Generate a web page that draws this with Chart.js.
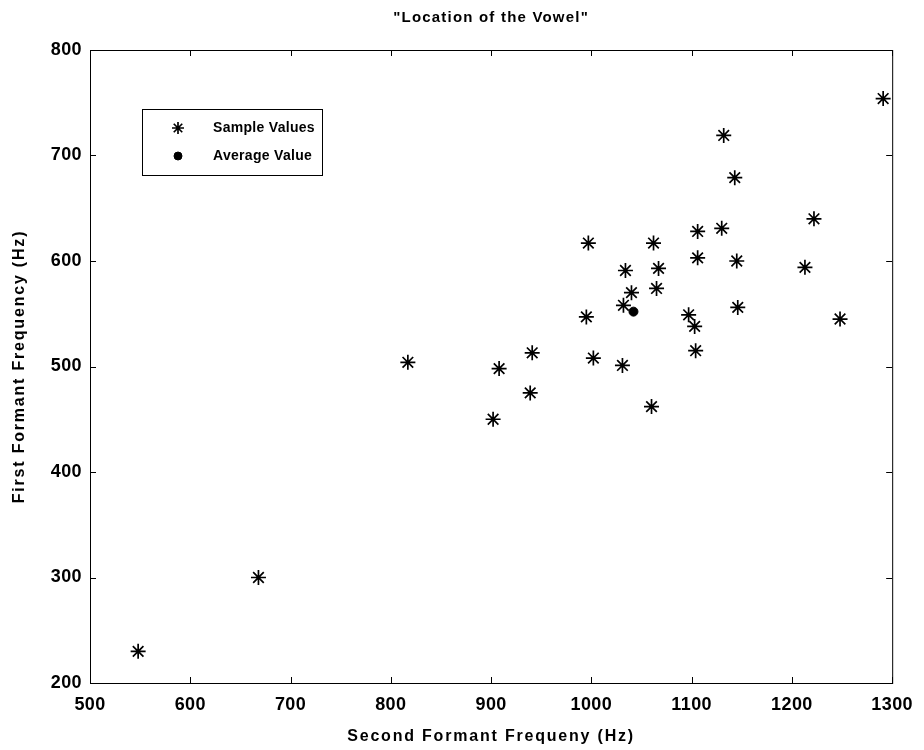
<!DOCTYPE html>
<html>
<head>
<meta charset="utf-8">
<title>Location of the Vowel</title>
<script src="https://cdn.jsdelivr.net/npm/chart.js@4"></script>
<style>
    html, body { margin: 0; padding: 0; background: #fff; }
    #wrap { width: 924px; height: 750px; }
</style>
</head>
<body>
<div id="wrap"><canvas id="vowelChart"></canvas></div>
<script>
// --- DATA ---
const SECOND_FORMANT = [548, 668, 817, 902, 908, 939, 941, 995, 997, 1002, 1031, 1032, 1034, 1040, 1060, 1062,
                        1065, 1067, 1097, 1103, 1104, 1106, 1106, 1130, 1132, 1143, 1145, 1146, 1213, 1222, 1248, 1291];
const FIRST_FORMANT  = [230, 300, 504, 450, 498, 475, 513, 547, 617, 508, 501, 558, 591, 570, 462, 617,
                        574, 593, 549, 538, 515, 628, 603, 631, 719, 679, 600, 556, 594, 640, 545, 754];
const AVERAGE_F2 = [1042];
const AVERAGE_F1 = [552];
const X_TICKS = [500, 600, 700, 800, 900, 1000, 1100, 1200, 1300];
const Y_TICKS = [200, 300, 400, 500, 600, 700, 800];
const SERIES_LABELS = ['Sample Values', 'Average Value'];
const TITLE = '"Location of the Vowel"';
const X_LABEL = 'Second Formant Frequeny (Hz)';
const Y_LABEL = 'First Formant Frequency (Hz)';

const FONT = "'Liberation Sans', Arial, Helvetica, sans-serif";

const toPoints = (xs, ys) => xs.map((x, i) => ({ x, y: ys[i] }));

// canvas resets its state on resize, so set the spacing again before layout and draw
const spacingPlugin = {
    id: 'spacing',
    beforeLayout(chart) { chart.ctx.letterSpacing = '0.4px'; },
    beforeDraw(chart) { chart.ctx.letterSpacing = '0.4px'; }
};

// box round the plot + inward ticks on all four sides (MATLAB style)
const boxPlugin = {
    id: 'box',
    afterDatasetsDraw(chart) {
        const { ctx, chartArea: a, scales } = chart;
        ctx.save();
        ctx.strokeStyle = '#000';
        ctx.lineWidth = 1;
        ctx.strokeRect(a.left + 0.5, a.top + 0.5, a.right - a.left, a.bottom - a.top);
        ctx.beginPath();
        X_TICKS.forEach(v => {
            const px = Math.round(scales.x.getPixelForValue(v)) + 0.5;
            ctx.moveTo(px, a.bottom); ctx.lineTo(px, a.bottom - 6);
            ctx.moveTo(px, a.top); ctx.lineTo(px, a.top + 6);
        });
        Y_TICKS.forEach(v => {
            const py = Math.round(scales.y.getPixelForValue(v)) + 0.5;
            ctx.moveTo(a.left, py); ctx.lineTo(a.left + 6, py);
            ctx.moveTo(a.right, py); ctx.lineTo(a.right - 6, py);
        });
        ctx.stroke();
        ctx.restore();
    }
};

// title and axis labels, spaced out like the original figure
const labelsPlugin = {
    id: 'labels',
    afterDraw(chart) {
        const { ctx, chartArea: a } = chart;
        const cx = (a.left + a.right) / 2;
        ctx.save();
        ctx.fillStyle = '#000';
        ctx.textAlign = 'center';
        ctx.textBaseline = 'middle';

        ctx.letterSpacing = '1.2px';
        ctx.font = `bold 15px ${FONT}`;
        ctx.fillText(TITLE, cx, 18);

        ctx.letterSpacing = '1.8px';
        ctx.font = `bold 16px ${FONT}`;
        ctx.fillText(X_LABEL, cx, 737);

        ctx.translate(20, (a.top + a.bottom) / 2);
        ctx.rotate(-Math.PI / 2);
        ctx.fillText(Y_LABEL, 0, 0);
        ctx.restore();
    }
};

// legend drawn inside the plot, upper left
const insideLegend = {
    id: 'insideLegend',
    afterDraw(chart) {
        const { ctx } = chart;
        const x0 = 142, y0 = 109, w = 180, h = 66;
        ctx.save();
        ctx.fillStyle = '#fff';
        ctx.fillRect(x0, y0, w, h);
        ctx.strokeStyle = '#000';
        ctx.lineWidth = 1;
        ctx.strokeRect(x0 + 0.5, y0 + 0.5, w, h);
        ctx.letterSpacing = '0.3px';
        ctx.font = `bold 14px ${FONT}`;
        ctx.textBaseline = 'middle';
        const rows = [128, 156];
        chart.data.datasets.forEach((ds, i) => {
            ctx.strokeStyle = '#000';
            ctx.fillStyle = '#000';
            ctx.lineWidth = ds.borderWidth;
            Chart.helpers.drawPoint(ctx, {
                pointStyle: ds.pointStyle,
                radius: i === 0 ? 6 : 4,
                borderWidth: ds.borderWidth,
                rotation: 0
            }, 178, rows[i]);
            ctx.fillText(ds.label, 213, rows[i]);
        });
        ctx.restore();
    }
};

new Chart(document.getElementById('vowelChart'), {
    type: 'scatter',
    data: {
        datasets: [
            {
                label: SERIES_LABELS[0],
                data: toPoints(SECOND_FORMANT, FIRST_FORMANT),
                pointStyle: 'star',
                pointRadius: 7.5,
                borderWidth: 1.7,
                borderColor: '#000',
                backgroundColor: '#000'
            },
            {
                label: SERIES_LABELS[1],
                data: toPoints(AVERAGE_F2, AVERAGE_F1),
                pointStyle: 'circle',
                pointRadius: 4.5,
                borderWidth: 1,
                borderColor: '#000',
                backgroundColor: '#000'
            }
        ]
    },
    options: {
        responsive: true,
        maintainAspectRatio: false,
        animation: false,
        layout: { padding: { left: 0, right: 31, top: 50, bottom: 0 } },
        plugins: {
            legend: { display: false },
            tooltip: { enabled: false },
            title: { display: false }
        },
        scales: {
            x: {
                type: 'linear',
                min: 500, max: 1300,
                afterFit(scale) { scale.height = 67; },
                afterBuildTicks(scale) { scale.ticks = X_TICKS.map(v => ({ value: v })); },
                grid: { display: false, drawTicks: false },
                border: { display: false },
                ticks: {
                    color: '#000', padding: 11,
                    font: { family: FONT, size: 18, weight: 'bold' },
                    callback: v => String(v)
                }
            },
            y: {
                type: 'linear',
                min: 200, max: 800,
                afterFit(scale) { scale.width = 90; },
                afterBuildTicks(scale) { scale.ticks = Y_TICKS.map(v => ({ value: v })); },
                grid: { display: false, drawTicks: false },
                border: { display: false },
                ticks: {
                    color: '#000', padding: 8,
                    font: { family: FONT, size: 18, weight: 'bold' },
                    callback: v => String(v)
                }
            }
        }
    },
    plugins: [spacingPlugin, boxPlugin, labelsPlugin, insideLegend]
});
</script>
</body>
</html>
